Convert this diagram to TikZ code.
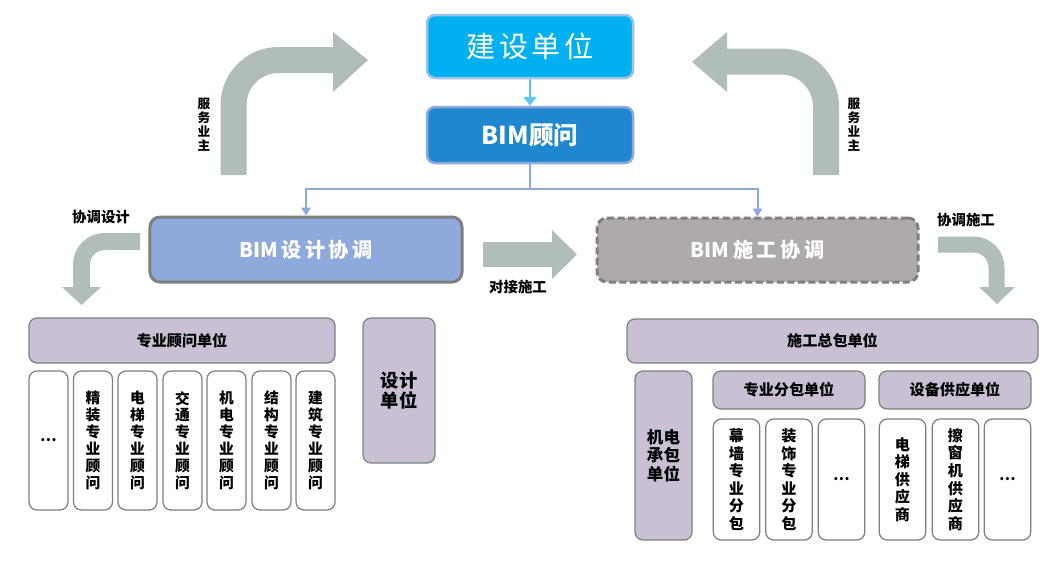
\documentclass[tikz,border=0pt]{standalone}
\usepackage{fontspec}
\setmainfont{Noto Sans CJK SC}
\usetikzlibrary{arrows.meta}

\definecolor{cyanbox}{HTML}{00B0F0}
\definecolor{cyanedge}{HTML}{9DC3E6}
\definecolor{cyanarrow}{HTML}{5BC8F0}
\definecolor{bimblue}{HTML}{1F86D0}
\definecolor{periwinkle}{HTML}{8EA9DB}
\definecolor{darkedge}{HTML}{7F7F7F}
\definecolor{sggray}{HTML}{AEAAAA}
\definecolor{lavbox}{HTML}{CAC0D4}
\definecolor{arrowgray}{HTML}{B1BDB9}

\newcommand\gap{\hspace{0.7mm}}

\tikzset{
  box/.style={rounded corners=1.6mm, align=center, inner sep=0pt},
  lav/.style={box, fill=lavbox, draw=darkedge, line width=0.25mm,
    font=\bfseries\fontsize{8.6}{10.2}\selectfont},
  col/.style={box, fill=white, draw=darkedge, line width=0.25mm,
    font=\bfseries\fontsize{8.4}{9.6}\selectfont},
  fat/.style={draw=arrowgray, line width=#1},
  tag/.style={font=\bfseries\fontsize{8.2}{8}\selectfont, inner sep=0pt},
  side/.style={align=center, font=\bfseries\fontsize{7.2}{8}\selectfont, inner sep=0pt},
}

\begin{document}
\begin{tikzpicture}[x=0.2mm, y=-0.2mm]
	\useasboundingbox (0,0) rectangle (1055,563);

	% oben
	\node[box, fill=cyanbox, draw=cyanedge, line width=0.5mm, minimum width=41.2mm,
	  minimum height=12.6mm, text=white, font=\fontsize{16.5}{17}\selectfont]
	  (jsdw) at (530,46.5) {建\gap 设\gap 单\gap 位};
	\node[box, fill=bimblue, draw=periwinkle, line width=0.5mm, minimum width=41.2mm,
	  minimum height=11.2mm, text=white, font=\bfseries\fontsize{14}{15}\selectfont]
	  (bimgw) at (530,135) {BIM顾问};
	\draw[-{Triangle[length=1.8mm,width=2.6mm]}, cyanarrow, line width=0.5mm] (jsdw) -- (bimgw);

	% Koordination
	\node[box, rounded corners=2mm, fill=periwinkle, draw=darkedge, line width=0.6mm,
	  minimum width=62.4mm, minimum height=13mm, text=white,
	  font=\bfseries\fontsize{11.5}{12}\selectfont]
	  (sjxt) at (306,249.5) {BIM\gap 设\gap 计\gap 协\gap 调};
	\node[box, rounded corners=2mm, fill=sggray, draw=darkedge, line width=0.6mm,
	  dash pattern=on 1.4mm off 0.7mm, minimum width=64.2mm, minimum height=12.8mm,
	  text=white, font=\bfseries\fontsize{11.5}{12}\selectfont]
	  (sgxt) at (757.5,250) {BIM\gap 施\gap 工\gap 协\gap 调};

	\coordinate (fork) at (530,189);
	\draw[periwinkle, line width=0.4mm] (bimgw) -- (fork);
	\draw[-{Triangle[length=1.6mm,width=1.9mm]}, periwinkle, line width=0.4mm] (fork) -| (sjxt.north);
	\draw[-{Triangle[length=1.6mm,width=1.9mm]}, periwinkle, line width=0.4mm] (fork) -| (sgxt.north);

	% grosse Pfeile
	\draw[fat=5.2mm, rounded corners=9mm] (233.5,175) |- (334,60);
	\fill[arrowgray] (333,32) -- (368,60) -- (333,92) -- cycle;
	\draw[fat=5.2mm, rounded corners=9mm] (826,175) |- (726,61.5);
	\fill[arrowgray] (727,32) -- (692,62) -- (727,92) -- cycle;
	\node[side] (fwyzl) at (204,124.5) {服\\务\\业\\主};
	\node[side] (fwyzr) at (854,124.5) {服\\务\\业\\主};

	% kleine Pfeile
	\draw[fat=3.4mm, rounded corners=4.6mm] (140,241.5) -| (81.5,288);
	\fill[arrowgray] (62,287) -- (81.5,305) -- (101,287) -- cycle;
	\node[tag] (xtsj) at (101,217) {协调设计};
	\draw[fat=3.2mm, rounded corners=4.6mm] (938,244.5) -| (996.5,288);
	\fill[arrowgray] (979,287) -- (997,304) -- (1015,287) -- cycle;
	\node[tag] (xtsg) at (966,220) {协调施工};
	\draw[fat=5mm] (483,254.5) -- (553,254.5);
	\fill[arrowgray] (552,230) -- (577,254.5) -- (552,279) -- cycle;
	\node[tag] (djsg) at (518,287) {对接施工};

	% Design-Seite
	\node[lav, minimum width=61.2mm, minimum height=9mm] (zygwdw) at (182,340.5) {专业顾问单位};
	\node[col, minimum width=7.8mm, minimum height=27.8mm] (gw0) at (48.5,440.5) {…};
	\node[col, minimum width=7.8mm, minimum height=27.8mm] (gw1) at (93,440.5) {精\\装\\专\\业\\顾\\问};
	\node[col, minimum width=7.8mm, minimum height=27.8mm] (gw2) at (137.5,440.5) {电\\梯\\专\\业\\顾\\问};
	\node[col, minimum width=7.8mm, minimum height=27.8mm] (gw3) at (182.5,440.5) {交\\通\\专\\业\\顾\\问};
	\node[col, minimum width=7.8mm, minimum height=27.8mm] (gw4) at (226.5,440.5) {机\\电\\专\\业\\顾\\问};
	\node[col, minimum width=7.8mm, minimum height=27.8mm] (gw5) at (271.5,440.5) {结\\构\\专\\业\\顾\\问};
	\node[col, minimum width=7.8mm, minimum height=27.8mm] (gw6) at (315.5,440.5) {建\\筑\\专\\业\\顾\\问};
	\node[lav, minimum width=14.4mm, minimum height=29mm,
	  font=\bfseries\fontsize{10.4}{11.2}\selectfont] (sjdw) at (399,390.5) {设计\\单位};

	% Bau-Seite
	\node[lav, minimum width=82.2mm, minimum height=8.8mm] (sgzb) at (832.5,341) {施工总包单位};
	\node[lav, minimum width=11.4mm, minimum height=33.8mm,
	  font=\bfseries\fontsize{9.4}{10.6}\selectfont] (jdcb) at (663.5,455.5) {机电\\承包\\单位};
	\node[lav, minimum width=30.4mm, minimum height=7.6mm] (zyfb) at (789,390) {专业分包单位};
	\node[lav, minimum width=30.4mm, minimum height=7.6mm] (sbgy) at (955,390) {设备供应单位};
	\node[col, minimum width=9.3mm, minimum height=24.2mm, font=\bfseries\fontsize{8.6}{10}\selectfont]
	  (fb1) at (736.5,479.5) {幕\\墙\\专\\业\\分\\包};
	\node[col, minimum width=9.3mm, minimum height=24.2mm, font=\bfseries\fontsize{8.6}{10}\selectfont]
	  (fb2) at (789,479.5) {装\\饰\\专\\业\\分\\包};
	\node[col, minimum width=9.3mm, minimum height=24.2mm] (fb3) at (841.5,479.5) {…};
	\node[col, minimum width=9.3mm, minimum height=24.2mm, font=\bfseries\fontsize{8.6}{10}\selectfont]
	  (gy1) at (902.5,479.5) {电\\梯\\供\\应\\商};
	\node[col, minimum width=9.3mm, minimum height=24.2mm, font=\bfseries\fontsize{8.6}{10}\selectfont]
	  (gy2) at (955.5,479.5) {擦\\窗\\机\\供\\应\\商};
	\node[col, minimum width=9.3mm, minimum height=24.2mm] (gy3) at (1007.5,479.5) {…};
\end{tikzpicture}
\end{document}
